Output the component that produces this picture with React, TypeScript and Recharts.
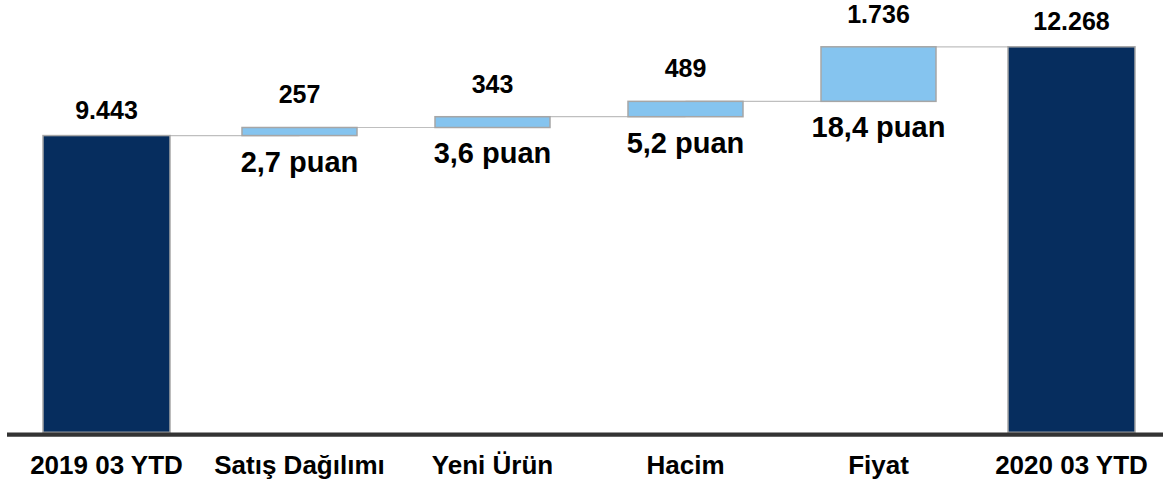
import React from 'react';
import { ComposedChart, Bar, Line, XAxis, YAxis, LabelList } from 'recharts';

const categories = ['2019 03 YTD', 'Satış Dağılımı', 'Yeni Ürün', 'Hacim', 'Fiyat', '2020 03 YTD'];
const values = [9443, 257, 343, 489, 1736, 12268];
const valueLabels = ['9.443', '257', '343', '489', '1.736', '12.268'];
const shareLabels = ['', '2,7 puan', '3,6 puan', '5,2 puan', '18,4 puan', ''];
const isTotal = [true, false, false, false, false, true];

const NAVY = '#062d5e';
const LIGHT = '#85c4ef';
const EDGE = '#a6a6a6';
const FONT = '"Liberation Sans", Arial, sans-serif';

const data = (() => {
  let running = 0;
  const rows: any[] = categories.map((name, i) => {
    let base = 0;
    if (isTotal[i]) {
      running = values[i];
    } else {
      base = running;
      running += values[i];
    }
    return { name, base, value: values[i], level: running };
  });
  // horizontal connectors: level of bar i joined to bar i+1
  for (let i = 0; i < rows.length - 1; i++) {
    rows[i]['c' + i] = rows[i].level;
    rows[i + 1]['c' + i] = rows[i].level;
  }
  return rows;
})();

const connectorKeys = categories.slice(0, -1).map((_, i) => 'c' + i);

const BarShape = (props: any) => {
  const { x, y, width, height, index } = props;
  const total = isTotal[index];
  const w = total ? width : (width * 115) / 127;
  return (
    <rect
      x={x + (width - w) / 2}
      y={y}
      width={w}
      height={height}
      fill={total ? NAVY : LIGHT}
      stroke={EDGE}
      strokeWidth={1.5}
    />
  );
};

const ValueLabel = (props: any) => {
  const { x, y, width, height, index } = props;
  const cx = x + width / 2;
  const total = isTotal[index];
  return (
    <g>
      <text
        x={cx}
        y={y - (total ? 17 : 24)}
        textAnchor="middle"
        fontFamily={FONT}
        fontWeight="bold"
        fontSize={25}
        fill="#000"
      >
        {valueLabels[index]}
      </text>
      {shareLabels[index] ? (
        <text
          x={cx}
          y={y + height + 36}
          textAnchor="middle"
          fontFamily={FONT}
          fontWeight="bold"
          fontSize={29}
          fill="#000"
        >
          {shareLabels[index]}
        </text>
      ) : null}
    </g>
  );
};

const Tick = (props: any) => {
  const { x, y, payload } = props;
  return (
    <text x={x} y={y + 42} textAnchor="middle" fontFamily={FONT} fontWeight="bold" fontSize={26} fill="#000">
      {payload.value}
    </text>
  );
};

export default function App() {
  return (
    <div style={{ position: 'absolute', left: 0, top: 0, background: '#fff' }}>
      <ComposedChart
        width={1168}
        height={484}
        data={data}
        margin={{ top: 23.8, right: 0, bottom: 11.7, left: 7 }}
        barCategoryGap={0}
      >
        <XAxis
          dataKey="name"
          height={40}
          padding={{ left: 3, right: 0 }}
          tickLine={false}
          tickSize={0}
          tickMargin={0}
          tick={<Tick />}
          interval={0}
          axisLine={{ stroke: '#333333', strokeWidth: 4.4, transform: 'translate(0,2.3)' }}
        />
        <YAxis hide domain={[0, 13000]} />
        {connectorKeys.map((k) => (
          <Line
            key={k}
            dataKey={k}
            stroke="#bfbfbf"
            strokeWidth={1.2}
            dot={false}
            activeDot={false}
            connectNulls={false}
            isAnimationActive={false}
            zIndex={100}
          />
        ))}
        <Bar dataKey="base" stackId="a" fill="transparent" barSize={127} isAnimationActive={false} />
        <Bar dataKey="value" stackId="a" barSize={127} shape={<BarShape />} isAnimationActive={false}>
          <LabelList dataKey="value" content={<ValueLabel />} />
        </Bar>
      </ComposedChart>
    </div>
  );
}
